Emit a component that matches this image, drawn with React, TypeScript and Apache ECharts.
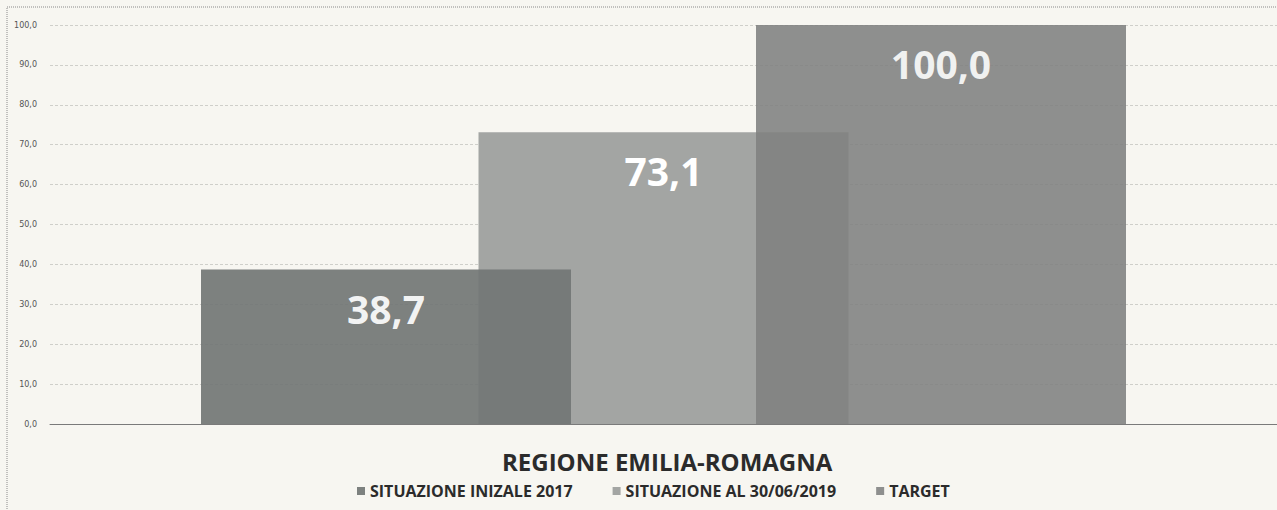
import React, { useEffect, useRef } from "react";
import * as echarts from "echarts";

const categories = ["REGIONE EMILIA-ROMAGNA"];
const seriesNames = ["SITUAZIONE INIZALE 2017", "SITUAZIONE AL 30/06/2019", "TARGET"];
const valuesInitial = [38.7];
const valuesCurrent = [73.1];
const valuesTarget = [100.0];
const yTicks = { min: 0, max: 100, interval: 10 };

const fmt = (v: number) => v.toFixed(1).replace(".", ",");

export default function App() {
  const ref = useRef<HTMLDivElement>(null);
  useEffect(() => {
    if (!ref.current) return;
    const chart = echarts.init(ref.current, undefined, { renderer: "svg" });
    const label = {
      show: true,
      position: "insideTop",
      distance: 19,
      color: "#ffffff",
      fontSize: 39,
      fontWeight: "bold",
      fontFamily: "Open Sans",
      formatter: (p: any) => fmt(p.value),
    };
    chart.setOption({
      animation: false,
      backgroundColor: "#f7f6f1",
      title: {
        text: categories[0],
        left: 497,
        top: 444,
        textStyle: { fontSize: 24, fontWeight: "bold", color: "#2b2b2b", fontFamily: "Open Sans" },
      },
      legend: {
        data: seriesNames,
        left: 352,
        top: 478,
        icon: "rect",
        itemWidth: 8,
        itemHeight: 8,
        itemGap: 40,
        textStyle: { fontSize: 16, fontWeight: "bold", color: "#2b2b2b", fontFamily: "Open Sans" },
      },
      grid: { left: 50, right: 0, top: 25, bottom: 86 },
      xAxis: {
        type: "category",
        data: categories,
        axisLabel: { show: false },
        axisTick: { show: false },
        axisLine: { lineStyle: { color: "#7a7a7a", width: 1 } },
      },
      yAxis: {
        type: "value",
        min: yTicks.min,
        max: yTicks.max,
        interval: yTicks.interval,
        axisLine: { show: false },
        axisTick: { show: false },
        axisLabel: {
          formatter: (v: number) => fmt(v),
          fontSize: 8,
          color: "#555",
          fontFamily: "DejaVu Sans",
          margin: 13,
        },
        splitLine: { lineStyle: { color: "#cfcfca", width: 1, type: [3, 2] } },
      },
      graphic: [
        {
          type: "rect",
          shape: { x: 7, y: 7, width: 1290, height: 520 },
          style: { fill: "none", stroke: "#8a8a8a", lineWidth: 1, lineDash: [1, 1] },
          silent: true,
        },
      ],
      series: [
        {
          name: seriesNames[0],
          type: "bar",
          data: valuesInitial,
          barWidth: 370,
          barGap: "-25%",
          z: 3,
          itemStyle: { color: "#727675", opacity: 0.92 },
          label,
        },
        {
          name: seriesNames[1],
          type: "bar",
          data: valuesCurrent,
          barWidth: 370,
          barGap: "-25%",
          z: 2,
          itemStyle: { color: "#a3a5a3" },
          label,
        },
        {
          name: seriesNames[2],
          type: "bar",
          data: valuesTarget,
          barWidth: 370,
          barGap: "-25%",
          z: 3,
          itemStyle: { color: "#7f8180", opacity: 0.88 },
          label,
        },
      ],
    });
    return () => chart.dispose();
  }, []);
  return (
    <div
      ref={ref}
      style={{ position: "fixed", left: 0, top: 0, width: 1277, height: 510 }}
    />
  );
}
